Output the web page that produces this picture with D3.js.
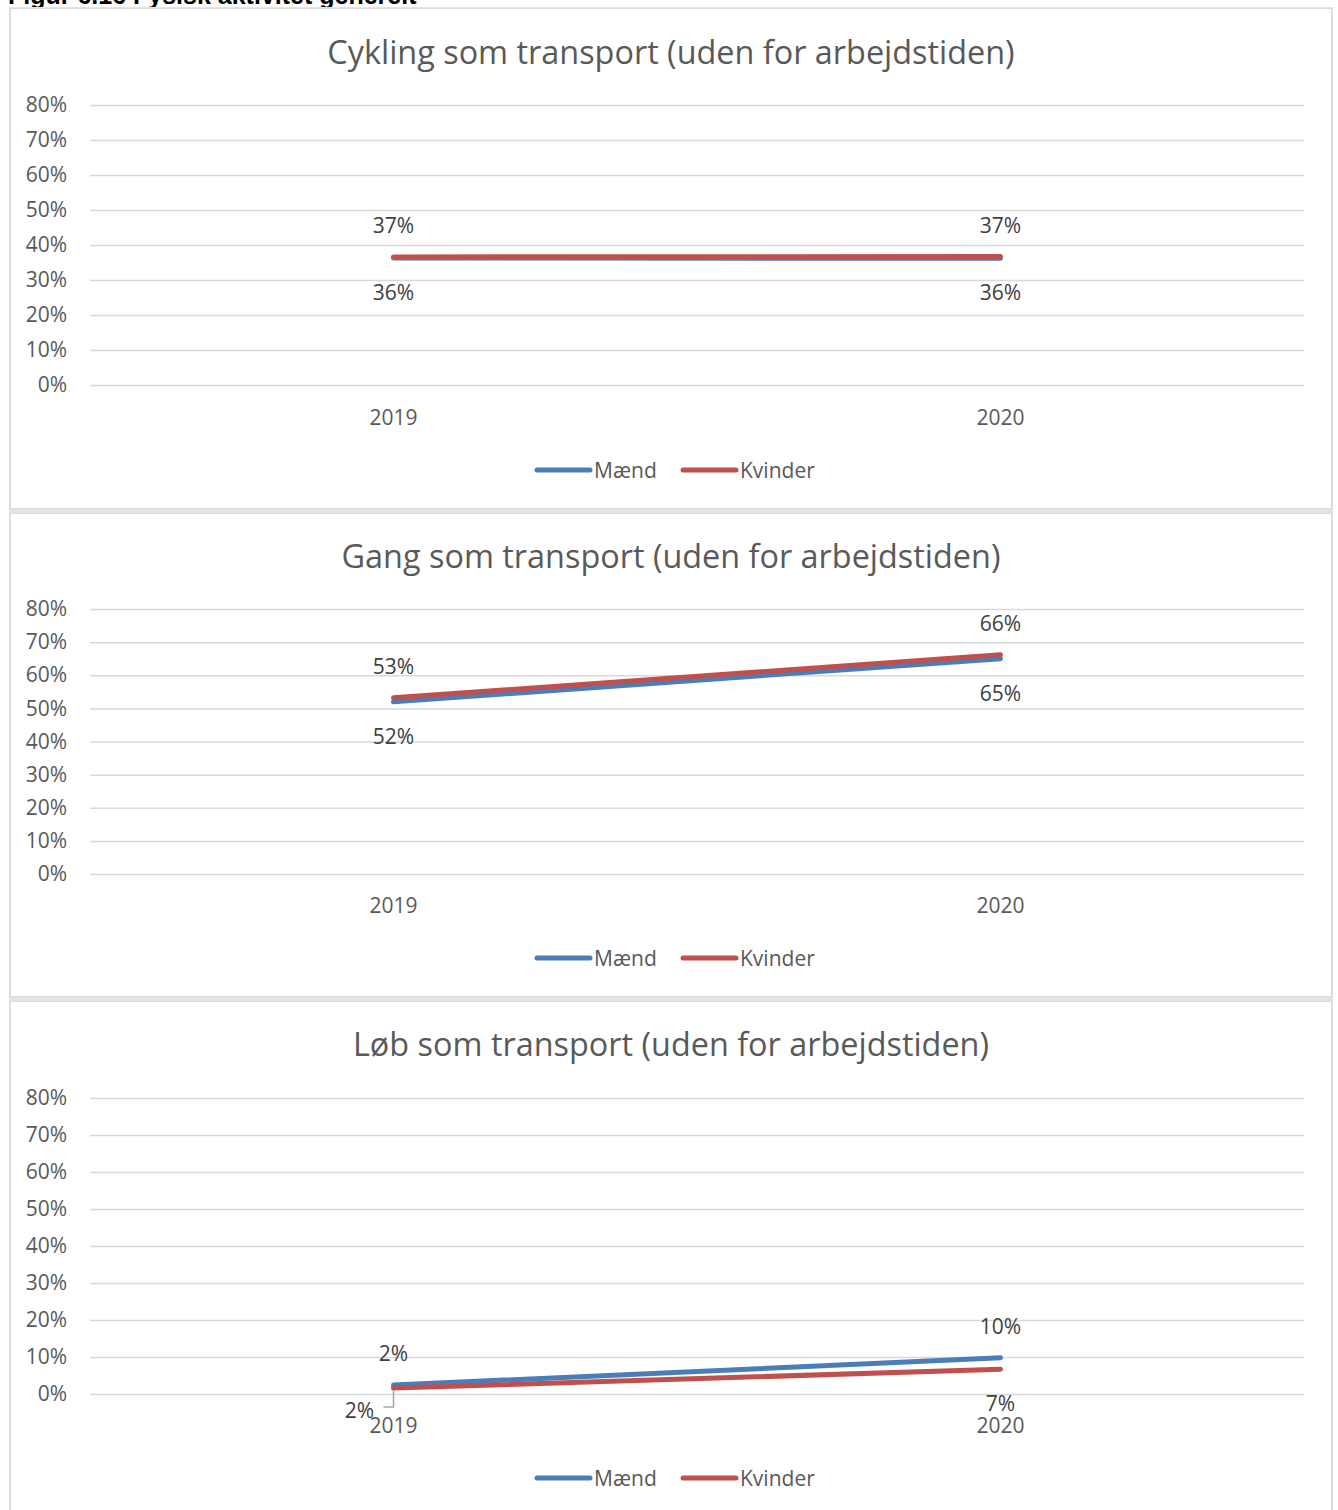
<!DOCTYPE html>
<html>
<head>
<meta charset="utf-8">
<script src="https://cdn.jsdelivr.net/npm/d3@7"></script>
<style>
  html, body { margin: 0; padding: 0; background: #ffffff; }
  svg { display: block; font-family: "Open Sans", "Noto Sans", sans-serif; }
</style>
</head>
<body>
<svg id="chart" width="1338" height="1510"></svg>
<script>
// ---- data ----
const years = ["2019", "2020"];
const seriesNames = ["Mænd", "Kvinder"];
const yTickValues = [0, 0.1, 0.2, 0.3, 0.4, 0.5, 0.6, 0.7, 0.8];
const panelTitles = [
  "Cykling som transport (uden for arbejdstiden)",
  "Gang som transport (uden for arbejdstiden)",
  "Løb som transport (uden for arbejdstiden)"
];
const cyklingMaend   = [0.363, 0.362];
const cyklingKvinder = [0.366, 0.367];
const gangMaend      = [0.520, 0.650];
const gangKvinder    = [0.532, 0.662];
const loebMaend      = [0.024, 0.098];
const loebKvinder    = [0.016, 0.067];

// ---- appearance ----
const colors = { "Mænd": "#4A7EBB", "Kvinder": "#C0504D" };
const axisColor = "#595959";
const labelColor = "#404040";
const gridColor = "#d9d9d9";
const smallFont = 21;
const fmt = d3.format(".0%");

// vertical layout of the three stacked panels
const layout = [
  { top: 8,    bottom: 508,  title: 51,   y80: 105,  y0: 385,  xlab: 417,  legend: 470 },
  { top: 513,  bottom: 996,  title: 555,  y80: 609,  y0: 874,  xlab: 905,  legend: 958 },
  { top: 1001, bottom: 1520, title: 1043, y80: 1098, y0: 1394, xlab: 1425, legend: 1478 }
];
const panelData = [
  { "Mænd": cyklingMaend, "Kvinder": cyklingKvinder },
  { "Mænd": gangMaend,    "Kvinder": gangKvinder },
  { "Mænd": loebMaend,    "Kvinder": loebKvinder }
];
const plotLeft = 90, plotRight = 1304;

const svg = d3.select("#chart");

// caption above the figure (runs off the top edge)
svg.append("text")
  .attr("x", 8).attr("y", 4)
  .attr("font-family", "Liberation Sans, Arial, sans-serif")
  .attr("font-weight", "bold")
  .attr("font-size", 25)
  .attr("fill", "#000")
  .text("Figur 6.16 Fysisk aktivitet generelt");

// grey frame behind the panels
svg.append("rect")
  .attr("x", 9).attr("y", 7).attr("width", 1324).attr("height", 1520)
  .attr("fill", "#e3e3e3");

const x = d3.scaleBand().domain(years).range([plotLeft, plotRight]);

layout.forEach((L, pi) => {
  const g = svg.append("g");
  const data = panelData[pi];

  g.append("rect")
    .attr("x", 10.5).attr("y", L.top + 0.5)
    .attr("width", 1321).attr("height", L.bottom - L.top)
    .attr("fill", "#fff").attr("stroke", gridColor).attr("stroke-width", 1);

  g.append("text")
    .attr("x", 671).attr("y", L.title)
    .attr("text-anchor", "middle").attr("dominant-baseline", "central")
    .attr("font-size", 32.4).attr("fill", axisColor)
    .text(panelTitles[pi]);

  const y = d3.scaleLinear().domain([0, 0.8]).range([L.y0, L.y80]);

  // gridlines + y tick labels via axis
  const yAxis = d3.axisLeft(y).tickValues(yTickValues).tickFormat(fmt)
    .tickSize(-(plotRight - plotLeft)).tickPadding(23);
  const ya = g.append("g").attr("transform", `translate(${plotLeft},0)`).call(yAxis);
  ya.select(".domain").remove();
  ya.selectAll("line").attr("stroke", gridColor).attr("stroke-width", 1.5);
  ya.selectAll("text").attr("font-size", smallFont).attr("fill", axisColor)
    .attr("font-family", "Open Sans, sans-serif");

  // x category labels
  const xAxis = d3.axisBottom(x).tickSize(0).tickPadding(0);
  const xa = g.append("g").attr("transform", `translate(0,${L.xlab})`).call(xAxis);
  xa.select(".domain").remove();
  xa.selectAll("text").attr("font-size", smallFont).attr("fill", axisColor)
    .attr("dy", null).attr("dominant-baseline", "central")
    .attr("font-family", "Open Sans, sans-serif");

  const line = d3.line()
    .x((d, i) => x(years[i]) + x.bandwidth() / 2)
    .y(d => y(d));

  seriesNames.forEach(s => {
    g.append("path")
      .datum(data[s])
      .attr("d", line)
      .attr("fill", "none")
      .attr("stroke", colors[s])
      .attr("stroke-width", 5)
      .attr("stroke-linecap", "round");
  });

  // value labels: the higher series goes above, the lower one below
  years.forEach((yr, i) => {
    const cx = x(yr) + x.bandwidth() / 2;
    const vm = data["Mænd"][i], vk = data["Kvinder"][i];
    const upper = vk >= vm ? "Kvinder" : "Mænd";
    seriesNames.forEach(s => {
      const v = data[s][i];
      let lx = cx, ly = s === upper ? y(v) - 32 : y(v) + 34;
      // manually moved label with a leader line
      if (pi === 2 && i === 0 && s === "Kvinder") {
        lx = cx - 34; ly = y(v) + 22;
        g.append("path")
          .attr("d", `M${cx},${y(v) + 2} V${y(v) + 19} H${cx - 10}`)
          .attr("fill", "none").attr("stroke", "#a6a6a6").attr("stroke-width", 1.5);
      }
      g.append("text")
        .attr("x", lx).attr("y", ly)
        .attr("text-anchor", "middle").attr("dominant-baseline", "central")
        .attr("font-size", smallFont).attr("fill", labelColor)
        .text(fmt(v));
    });
  });

  // legend
  const legendItems = [
    { name: "Mænd", x0: 537 },
    { name: "Kvinder", x0: 683 }
  ];
  legendItems.forEach(it => {
    g.append("line")
      .attr("x1", it.x0).attr("x2", it.x0 + 53)
      .attr("y1", L.legend).attr("y2", L.legend)
      .attr("stroke", colors[it.name]).attr("stroke-width", 5)
      .attr("stroke-linecap", "round");
    g.append("text")
      .attr("x", it.x0 + 57).attr("y", L.legend)
      .attr("dominant-baseline", "central")
      .attr("font-size", smallFont).attr("fill", axisColor)
      .text(it.name);
  });
});
</script>
</body>
</html>
